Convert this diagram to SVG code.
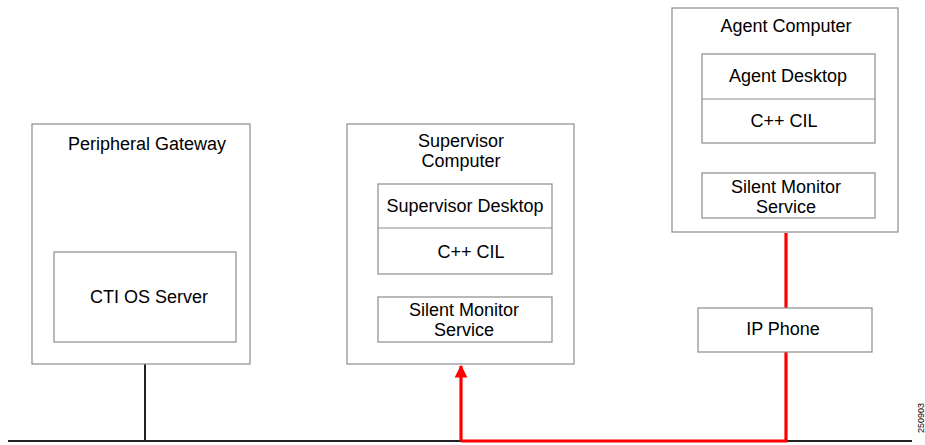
<svg xmlns="http://www.w3.org/2000/svg" width="925" height="445" viewBox="0 0 925 445">
<style>
.box{fill:#fff;stroke:#8c8c8c;stroke-width:1.2}
.in{fill:none;stroke:#8c8c8c;stroke-width:1.2}
text{font-family:"Liberation Sans",Arial,sans-serif;font-size:18px;fill:#000;text-anchor:middle}
.net{stroke:#222;stroke-width:2;fill:none}
.red{stroke:#ff0000;stroke-width:3.2;fill:none}
</style>
<defs>
<marker id="ah" viewBox="0 0 10 10" refX="9" refY="5" markerWidth="4" markerHeight="4.5" orient="auto" markerUnits="strokeWidth">
<path d="M0,0 L10,5 L0,10 z" fill="#ff0000"/>
</marker>
</defs>
<g id="connectors">
<line class="net" x1="8" y1="441" x2="912" y2="441"/>
<line class="net" x1="145" y1="364" x2="145" y2="441"/>
<path class="red" d="M461,441 L786,441 L786,352"/>
<line class="red" x1="786" y1="308" x2="786" y2="233"/>
<path class="red" d="M461,441 L461,366" marker-end="url(#ah)"/>
</g>
<g id="peripheral-gateway">
<rect class="box" x="32" y="124" width="218" height="240"/>
<text x="147" y="150">Peripheral Gateway</text>
<g id="cti-os-server">
<rect class="in" x="54" y="252" width="182" height="90"/>
<text x="149" y="303">CTI OS Server</text>
</g>
</g>
<g id="supervisor-computer">
<rect class="box" x="347" y="124" width="227" height="240"/>
<text x="461" y="147">Supervisor</text>
<text x="461" y="167">Computer</text>
<g id="supervisor-desktop">
<rect class="in" x="378" y="184" width="174" height="90"/>
<line class="in" x1="378" y1="228" x2="552" y2="228"/>
<text x="465" y="212">Supervisor Desktop</text>
<text x="471" y="258">C++ CIL</text>
</g>
<g id="supervisor-silent-monitor">
<rect class="in" x="378" y="297" width="174" height="45"/>
<text x="464" y="316">Silent Monitor</text>
<text x="464" y="336">Service</text>
</g>
</g>
<g id="agent-computer">
<rect class="box" x="672" y="8" width="226" height="224"/>
<text x="786" y="32">Agent Computer</text>
<g id="agent-desktop">
<rect class="in" x="702" y="54" width="173" height="89"/>
<line class="in" x1="702" y1="99" x2="875" y2="99"/>
<text x="788" y="82">Agent Desktop</text>
<text x="784" y="127">C++ CIL</text>
</g>
<g id="agent-silent-monitor">
<rect class="in" x="702" y="173" width="173" height="45"/>
<text x="786" y="193">Silent Monitor</text>
<text x="786" y="213">Service</text>
</g>
</g>
<g id="ip-phone">
<rect class="box" x="698" y="308" width="174" height="44"/>
<text x="783" y="335">IP Phone</text>
</g>
<text x="0" y="0" transform="translate(924,418) rotate(-90)" style="font-size:9px">250903</text>
</svg>
